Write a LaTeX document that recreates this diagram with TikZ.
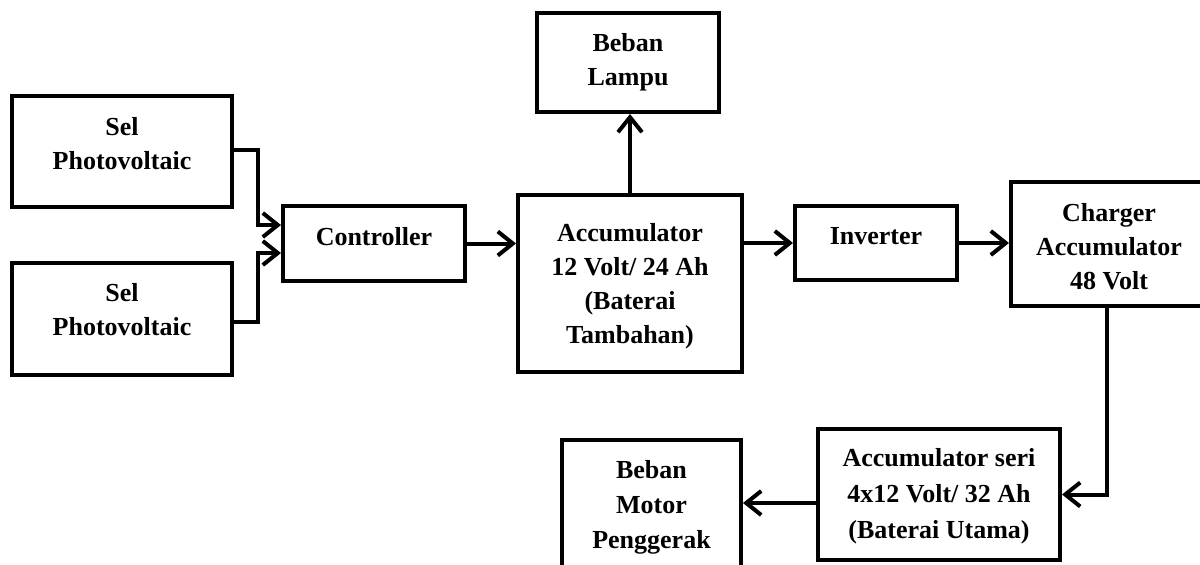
\documentclass[tikz,border=0pt]{standalone}
\usepackage{fontspec}
\setmainfont{Liberation Serif}
\usetikzlibrary{arrows.meta,calc}
\begin{document}
\begin{tikzpicture}[x=1pt,y=-1pt,
  box/.style={draw=black,line width=4pt,rectangle,inner sep=0pt,fill=white},
  lbl/.style={anchor=north,inner sep=0pt,align=center,font=\fontsize{26}{34}\selectfont\bfseries},
  arr/.style={line width=4pt,-{Straight Barb[length=15pt,width=24pt,line width=4pt]}}]
\useasboundingbox (0,0) rectangle (1200,565);
\clip (0,0) rectangle (1200,565);
\fill[white] (0,0) rectangle (1200,565);
% boxes
\node[box,minimum width=220,minimum height=111] (sel1) at (122,151.5) {};
\node[box,minimum width=220,minimum height=112] (sel2) at (122,319) {};
\node[box,minimum width=182,minimum height=75] (ctrl) at (374,243.5) {};
\node[box,minimum width=182,minimum height=99] (lamp) at (628,62.5) {};
\node[box,minimum width=224,minimum height=177] (acc) at (630,283.5) {};
\node[box,minimum width=162,minimum height=74] (inv) at (876,243) {};
\node[box,minimum width=196,minimum height=124] (chg) at (1109,244) {};
\node[box,minimum width=242,minimum height=131] (seri) at (939,494.5) {};
\node[box,minimum width=179,minimum height=180] (motor) at (651.5,530) {};
% labels
\node[lbl] (tsel1) at (122,117) {Sel\\Photovoltaic};
\node[lbl] (tsel2) at (122,283) {Sel\\Photovoltaic};
\node[lbl] (tctrl) at (374,227) {Controller};
\node[lbl] (tlamp) at (628,33) {Beban\\Lampu};
\node[lbl] (tacc) at (630,223) {Accumulator\\12 Volt/ 24 Ah\\(Baterai\\Tambahan)};
\node[lbl] (tinv) at (876,227) {Inverter};
\node[lbl] (tchg) at (1109,203) {Charger\\Accumulator\\48 Volt};
\node[lbl,font=\fontsize{26}{36}\selectfont\bfseries] (tseri) at (939,448) {Accumulator seri\\4x12 Volt/ 32 Ah\\(Baterai Utama)};
\node[lbl,font=\fontsize{26}{35}\selectfont\bfseries] (tmotor) at (651.5,460) {Beban\\Motor\\Penggerak};
% connectors
\draw[arr] ([yshift=1.5pt]sel1.east) -- ++(24,0) |- ([yshift=18.5pt]ctrl.west);
\draw[arr] ([yshift=-3pt]sel2.east) -- ++(24,0) |- ([yshift=-9.5pt]ctrl.west);
\draw[arr] (ctrl.east) -- (ctrl.east -| acc.west);
\draw[arr] (acc.north) -- (acc.north |- lamp.south);
\draw[arr] (inv.west -| acc.east) -- (inv.west);
\draw[arr] (inv.east) -- (inv.east -| chg.west);
\draw[arr] ([xshift=-2pt]chg.south) |- (seri.east);
\draw[arr] ([yshift=-8.5pt]seri.west) -- ([yshift=-8.5pt]seri.west -| motor.east);
\end{tikzpicture}
\end{document}
